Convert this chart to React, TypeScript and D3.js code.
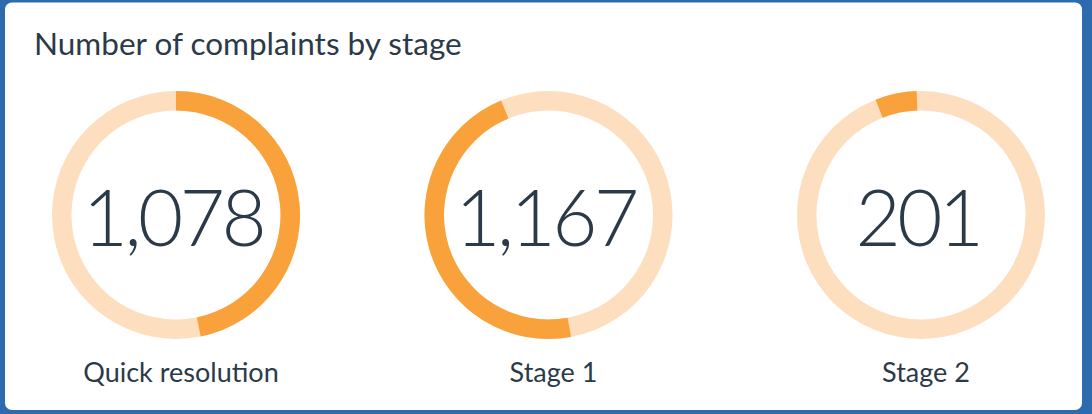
import React from "react";
import * as d3 from "d3";

const stages = ["Quick resolution", "Stage 1", "Stage 2"];
const counts = [1078, 1167, 201];
// highlighted part of each ring, degrees clockwise from 12 o'clock
const arcStartDeg = [0, 169.5, 338.5];
const arcEndDeg = [168.5, 337.5, 358];

const width = 1092;
const height = 414;

export default function App() {
    const x = d3.scalePoint<string>().domain(stages).range([176, 921]);
    const cy = 215;
    const outer = 124;
    const inner = 104.5;
    const rad = (d: number) => (d * Math.PI) / 180;

    const ring = d3.arc<any>().innerRadius(inner).outerRadius(outer).startAngle(0).endAngle(2 * Math.PI);
    const slice = d3.arc<any>().innerRadius(inner).outerRadius(outer);
    const fmt = d3.format(",");

    return (
        <svg width={width} height={height} style={{position: "absolute", left: 0, top: 0}}>
            <rect x={0} y={0} width={width} height={height} fill="#2e6aae"/>
            <rect x={5} y={2.5} width={1077} height={407.5} rx={7} fill="#ffffff"/>
            <text x={34} y={55} fontFamily="Lato, 'Noto Sans', sans-serif" fontSize={31.5} fill="#2b3a48">
                Number of complaints by stage
            </text>
            {stages.map((s, i) => (
                <g key={s} transform={`translate(${x(s)}, ${cy})`}>
                    <path d={ring({}) as string} fill="#fddfc0"/>
                    <path
                        d={slice({startAngle: rad(arcStartDeg[i]), endAngle: rad(arcEndDeg[i])}) as string}
                        fill="#f9a23b"
                    />
                    <text x={-3} y={31} textAnchor="middle" fontFamily="Lato, sans-serif" fontWeight={300}
                          fontSize={78} letterSpacing={-3.5} fill="#2b3a48">
                        {fmt(counts[i])}
                    </text>
                    <text x={5} y={167} textAnchor="middle" fontFamily="Lato, 'Noto Sans', sans-serif"
                          fontSize={27} fill="#2b3a48">
                        {s}
                    </text>
                </g>
            ))}
        </svg>
    );
}
